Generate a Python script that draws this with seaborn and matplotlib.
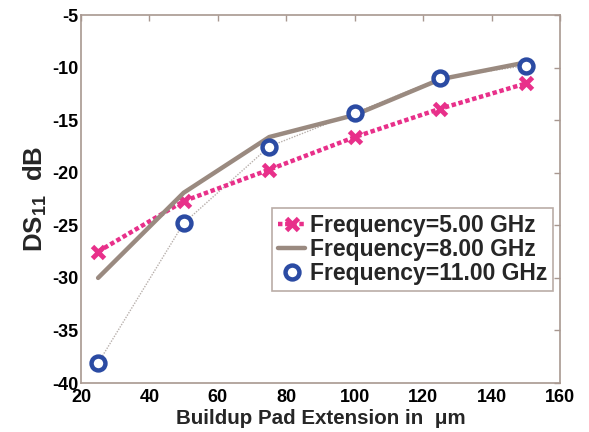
import matplotlib
matplotlib.use("Agg")
import matplotlib.pyplot as plt
import matplotlib.ticker as mticker
import seaborn as sns
import pandas as pd

pad_ext = [25, 50, 75, 100, 125, 150]
ds11_5ghz = [-27.5, -22.7, -19.7, -16.6, -13.9, -11.5]
ds11_8ghz = [-30.0, -21.9, -16.6, -14.5, -11.1, -9.5]
ds11_11ghz = [-38.1, -24.8, -17.5, -14.3, -11.0, -9.8]
labels = ["Frequency=5.00 GHz", "Frequency=8.00 GHz", "Frequency=11.00 GHz"]
x_ticks = [20, 40, 60, 80, 100, 120, 140, 160]
y_ticks = [-40, -35, -30, -25, -20, -15, -10, -5]

sns.set_style("white")
plt.rcParams["font.family"] = ["Liberation Sans", "DejaVu Sans"]
plt.rcParams["font.weight"] = "bold"
plt.rcParams["mathtext.fontset"] = "custom"
plt.rcParams["mathtext.rm"] = "Liberation Sans:bold"
plt.rcParams["mathtext.it"] = "Liberation Sans:bold"
plt.rcParams["mathtext.bf"] = "Liberation Sans:bold"

fig = plt.figure(figsize=(5.89, 4.32), dpi=100)
ax = fig.add_axes([0.1375, 0.1134, 0.8135, 0.8516])

pink = "#E8308A"
brown = "#9A8A80"
blue = "#2B4BA3"
spine = "#A89890"

df5 = pd.DataFrame({"x": pad_ext, "y": ds11_5ghz})
df8 = pd.DataFrame({"x": pad_ext, "y": ds11_8ghz})
df11 = pd.DataFrame({"x": pad_ext, "y": ds11_11ghz})

sns.lineplot(data=df11, x="x", y="y", ax=ax, color="#B8B0AC", lw=1.0,
             linestyle=(0, (1, 1)), legend=False)
sns.lineplot(data=df5, x="x", y="y", ax=ax, color=pink, lw=3.2,
             linestyle=(0, (1, 0.6)), marker="x", markersize=9,
             markeredgewidth=3.5, markeredgecolor=pink, label=labels[0])
sns.lineplot(data=df8, x="x", y="y", ax=ax, color=brown, lw=3.2,
             label=labels[1])
sns.lineplot(data=df11, x="x", y="y", ax=ax, color=blue, lw=0,
             marker="o", markersize=10, markerfacecolor="white",
             markeredgewidth=3.2, markeredgecolor=blue, label=labels[2])

ax.set_xlim(20, 160)
ax.set_ylim(-40, -5)
ax.set_xticks(x_ticks)
ax.set_yticks(y_ticks)
ax.yaxis.set_major_formatter(mticker.FuncFormatter(lambda v, p: "%d" % v))
ax.tick_params(direction="in", length=4, colors=spine, labelcolor="black",
               labelsize=13, top=True, right=True, width=1)
ax.tick_params(axis="x", pad=4.5)
ax.tick_params(axis="y", pad=2)
for lab in ax.get_xticklabels() + ax.get_yticklabels():
    lab.set_fontweight("bold")
for s in ax.spines.values():
    s.set_color(spine)
    s.set_linewidth(1.2)

ax.set_xlabel("Buildup Pad Extension in  μm", fontsize=14.8, fontweight="bold", labelpad=2)
ax.set_ylabel("DS$_{11}$  dB", fontsize=18.5, fontweight="bold", labelpad=2)

leg = ax.legend(loc="upper left", bbox_to_anchor=(0.399, 0.4755), frameon=True,
                fancybox=False, fontsize=16.5, handlelength=1.2,
                handletextpad=0.2, borderpad=0.25, labelspacing=0.05,
                borderaxespad=0)
leg.get_frame().set_edgecolor(spine)
leg.get_frame().set_linewidth(1.2)
for t in leg.get_texts():
    t.set_fontweight("bold")

fig.savefig("out.png", dpi=100)
